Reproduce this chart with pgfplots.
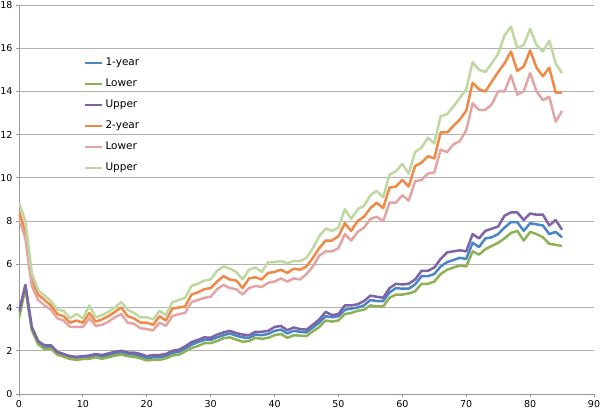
\documentclass[border=0pt]{standalone}
\usepackage{pgfplots}
\pgfplotsset{compat=1.18}
\usepackage{pgfplotstable}
\usepackage{fontspec}
\setmainfont{DejaVu Sans}
\definecolor{cA}{HTML}{4A86C5}
\definecolor{cB}{HTML}{8DB255}
\definecolor{cC}{HTML}{7E63A6}
\definecolor{cD}{HTML}{EE8A45}
\definecolor{cE}{HTML}{E3A4A4}
\definecolor{cF}{HTML}{BFD8A2}
\pgfplotstableread{
x a b c d e f
0 3.7 3.5 3.8 8.45 8.1 8.85
1 5.0 4.9 5.05 7.5 7.2 8.0
2 3.05 2.95 3.1 5.3 5.0 5.6
3 2.4 2.3 2.45 4.6 4.35 4.8
4 2.15 2.07 2.25 4.35 4.1 4.55
5 2.18 2.1 2.25 4.1 3.9 4.3
6 1.9 1.82 1.95 3.7 3.5 3.9
7 1.8 1.72 1.85 3.6 3.4 3.85
8 1.7 1.62 1.75 3.3 3.1 3.5
9 1.67 1.58 1.72 3.4 3.1 3.7
10 1.7 1.62 1.75 3.3 3.1 3.5
11 1.72 1.63 1.78 3.75 3.5 4.1
12 1.78 1.7 1.85 3.35 3.15 3.55
13 1.72 1.63 1.8 3.45 3.2 3.65
14 1.8 1.7 1.88 3.6 3.35 3.8
15 1.87 1.77 1.95 3.8 3.55 4.0
16 1.92 1.83 2.0 4.0 3.7 4.25
17 1.85 1.75 1.92 3.6 3.3 3.9
18 1.82 1.72 1.92 3.5 3.25 3.75
19 1.75 1.65 1.85 3.3 3.05 3.55
20 1.65 1.55 1.75 3.3 3.0 3.55
21 1.7 1.58 1.8 3.2 2.95 3.45
22 1.7 1.58 1.8 3.6 3.3 3.85
23 1.75 1.65 1.85 3.4 3.15 3.65
24 1.9 1.78 2.0 3.95 3.6 4.25
25 1.95 1.82 2.05 4.0 3.7 4.35
26 2.1 1.97 2.2 4.05 3.75 4.45
27 2.28 2.12 2.4 4.6 4.25 5.0
28 2.4 2.22 2.5 4.7 4.35 5.1
29 2.5 2.35 2.62 4.85 4.45 5.25
30 2.5 2.35 2.6 4.9 4.5 5.3
31 2.62 2.45 2.75 5.2 4.85 5.7
32 2.72 2.58 2.85 5.45 5.05 5.9
33 2.8 2.62 2.92 5.3 4.9 5.8
34 2.7 2.52 2.82 5.25 4.85 5.65
35 2.62 2.42 2.75 4.9 4.6 5.3
36 2.6 2.45 2.72 5.35 4.9 5.75
37 2.75 2.6 2.88 5.4 5.0 5.85
38 2.72 2.55 2.88 5.3 4.95 5.65
39 2.78 2.6 2.92 5.6 5.15 6.1
40 2.92 2.72 3.1 5.65 5.2 6.1
41 2.98 2.78 3.15 5.75 5.35 6.15
42 2.8 2.6 2.95 5.6 5.2 6.05
43 2.92 2.72 3.08 5.8 5.35 6.15
44 2.88 2.7 3.0 5.75 5.3 6.15
45 2.85 2.68 2.98 5.9 5.55 6.3
46 3.08 2.9 3.2 6.3 5.9 6.75
47 3.3 3.1 3.45 6.75 6.4 7.3
48 3.6 3.4 3.8 7.1 6.6 7.65
49 3.55 3.35 3.65 7.1 6.6 7.55
50 3.6 3.4 3.7 7.3 6.75 7.7
51 3.9 3.7 4.1 7.9 7.4 8.55
52 3.95 3.75 4.1 7.55 7.1 8.1
53 4.0 3.85 4.15 8.0 7.5 8.55
54 4.1 3.9 4.3 8.2 7.7 8.7
55 4.35 4.1 4.55 8.6 8.1 9.2
56 4.3 4.05 4.5 8.85 8.2 9.4
57 4.3 4.05 4.45 8.6 8.0 9.1
58 4.7 4.45 4.9 9.55 8.85 10.15
59 4.9 4.6 5.1 9.6 8.85 10.3
60 4.87 4.6 5.07 9.9 9.2 10.65
61 4.87 4.65 5.1 9.6 8.95 10.2
62 5.07 4.75 5.3 10.55 9.85 11.2
63 5.45 5.1 5.7 10.7 9.9 11.4
64 5.45 5.1 5.7 11.0 10.2 11.85
65 5.55 5.2 5.85 10.9 10.25 11.6
66 5.9 5.55 6.25 12.1 11.3 12.85
67 6.1 5.75 6.55 12.1 11.2 12.95
68 6.2 5.85 6.6 12.4 11.55 13.3
69 6.3 5.95 6.65 12.7 11.7 13.7
70 6.25 5.9 6.6 13.1 12.2 14.1
71 7.0 6.6 7.4 14.4 13.45 15.35
72 6.8 6.45 7.2 14.1 13.15 15.0
73 7.2 6.7 7.55 14.0 13.15 14.9
74 7.25 6.85 7.65 14.45 13.4 15.3
75 7.4 7.0 7.75 14.9 14.0 15.75
76 7.7 7.2 8.25 15.3 14.0 16.6
77 7.95 7.45 8.4 15.85 14.75 17.0
78 7.95 7.55 8.4 14.95 13.85 16.0
79 7.55 7.1 8.05 15.15 14.0 16.15
80 7.9 7.5 8.35 15.9 14.85 16.9
81 7.85 7.4 8.3 15.1 14.0 16.15
82 7.8 7.25 8.3 14.7 13.6 15.85
83 7.4 6.95 7.8 15.1 13.75 16.35
84 7.5 6.9 8.05 13.95 12.6 15.3
85 7.25 6.85 7.6 13.95 13.1 14.85
}\data
\begin{document}
\begin{tikzpicture}
\begin{axis}[
  scale only axis, width=575pt, height=389pt,
  xmin=0, xmax=90, ymin=0, ymax=18,
  xtick={0,10,...,90}, ytick={0,2,...,18},
  axis lines*=left,
  ymajorgrids,
  grid style={color=black!30, line width=0.8pt},
  axis line style={black!40, line width=0.8pt},
  tick style={black!40, line width=0.8pt},
  tick align=outside, major tick length=3pt,
  ticklabel style={font=\fontsize{9.5}{11}\selectfont},
  /pgf/number format/assume math mode=true,
  legend style={at={(0.108,0.875)}, anchor=north west, draw=none, fill=none,
    font=\fontsize{10.5}{12}\selectfont, row sep=6.5pt,
    nodes={text height=8pt, text depth=2.5pt}},
  legend cell align=left,
  legend image code/.code={\draw[#1, line width=2.2pt] (0pt,0pt) -- (17pt,0pt);},
  every axis plot/.append style={line width=2.5pt, line join=round},
]
\addplot[cA] table[x=x,y=a]{\data};
\addlegendentry{1-year}
\addplot[cB] table[x=x,y=b]{\data};
\addlegendentry{Lower}
\addplot[cC] table[x=x,y=c]{\data};
\addlegendentry{Upper}
\addplot[cD] table[x=x,y=d]{\data};
\addlegendentry{2-year}
\addplot[cE] table[x=x,y=e]{\data};
\addlegendentry{Lower}
\addplot[cF] table[x=x,y=f]{\data};
\addlegendentry{Upper}
\end{axis}
\pgfresetboundingbox
\path[use as bounding box] (-19pt,-17pt) rectangle (581pt,394pt);
\end{tikzpicture}
\end{document}
